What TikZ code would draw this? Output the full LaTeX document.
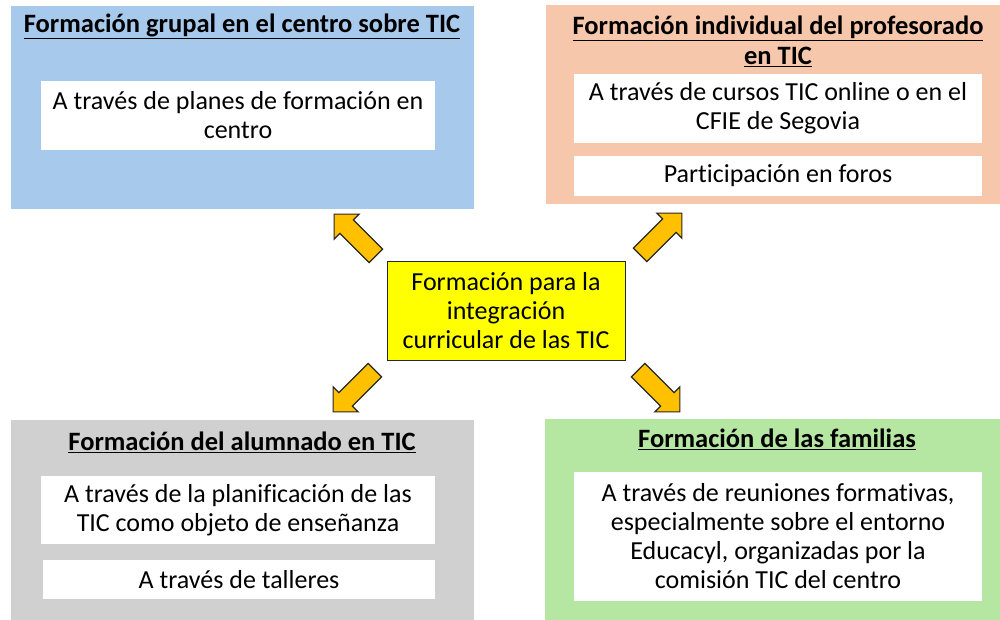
\documentclass[tikz,border=0pt]{standalone}
\usepackage{fontspec}
\setmainfont{Carlito}[Ligatures=NoCommon]
\definecolor{panelblue}{RGB}{166,201,236}
\definecolor{panelorange}{RGB}{247,199,172}
\definecolor{panelgray}{RGB}{208,208,208}
\definecolor{panelgreen}{RGB}{181,230,162}
\definecolor{hubyellow}{RGB}{255,255,0}
\definecolor{arrowgold}{RGB}{255,192,0}
\definecolor{darkline}{RGB}{38,38,38}
\tikzset{
	panel/.style={anchor=north west, inner sep=0pt, fill=#1},
	heading/.style={font=\fontsize{26.5}{30}\selectfont\bfseries, align=center, inner sep=0pt},
	itembox/.style={fill=white, inner sep=0pt, align=center, font=\fontsize{26}{29}\selectfont},
	hub/.style={fill=hubyellow, draw=darkline, line width=1pt, inner sep=0pt, align=center, font=\fontsize{26}{29}\selectfont},
	blockarrow/.style={fill=arrowgold, draw=darkline, line width=1.2pt, line join=miter}
}

\begin{document}
\begin{tikzpicture}[x=1pt, y=-1pt]
			\useasboundingbox (0,0) rectangle (1000,620);

			% four panels
			\node[panel=panelblue, minimum width=463pt, minimum height=203pt] (grupal) at (11,6) {};
			\node[panel=panelorange, minimum width=454pt, minimum height=199pt] (individual) at (546,5) {};
			\node[panel=panelgray, minimum width=463pt, minimum height=200pt] (alumnado) at (11,420) {};
			\node[panel=panelgreen, minimum width=455pt, minimum height=201pt] (familias) at (545,419) {};

			% headings
			\node[heading] (tgrupal) at (242,26) {\underline{Formación grupal en el centro sobre TIC}};
			\node[heading] (tindividual) at (778,41) {\underline{Formación individual del profesorado}\\\underline{en TIC}};
			\node[heading] (talumnado) at (242,442) {\underline{Formación del alumnado en TIC}};
			\node[heading] (tfamilias) at (777,439) {\underline{Formación de las familias}};

			% white boxes
			\node[itembox, minimum width=394pt, minimum height=69pt] (g1) at (238,115.5)
			{A través de planes de formación en\\centro};
			\node[itembox, minimum width=408pt, minimum height=69pt] (i1) at (778,108.5)
			{A través de cursos TIC online o en el\\CFIE de Segovia};
			\node[itembox, minimum width=408pt, minimum height=40pt] (i2) at (778,176)
			{Participación en foros};
			\node[itembox, minimum width=394pt, minimum height=68pt] (a1) at (238,510)
			{A través de la planificación de las\\TIC como objeto de enseñanza};
			\node[itembox, minimum width=392pt, minimum height=39pt] (a2) at (239,579.5)
			{A través de talleres};
			\node[itembox, minimum width=408pt, minimum height=129pt] (f1) at (778,536.5)
			{A través de reuniones formativas,\\especialmente sobre el entorno\\Educacyl, organizadas por la\\comisión TIC del centro};

			% centre
			\node[hub, minimum width=238pt, minimum height=99pt] (hub) at (506,310.5)
			{Formación para la\\integración\\curricular de las TIC};

			% block arrows
			\foreach \px/\py/\a in {355/235/135, 661/234/45, 354/391/225, 659/391/-45}
			{
				\begin{scope}[shift={(\px,\py)}, rotate=\a]
					\draw[blockarrow] (-29.5,-9.5) -- (11.8,-9.5) -- (11.8,-17.7) -- (29.5,0)
					-- (11.8,17.7) -- (11.8,9.5) -- (-29.5,9.5) -- cycle;
				\end{scope}
			}

		\end{tikzpicture}
\end{document}
